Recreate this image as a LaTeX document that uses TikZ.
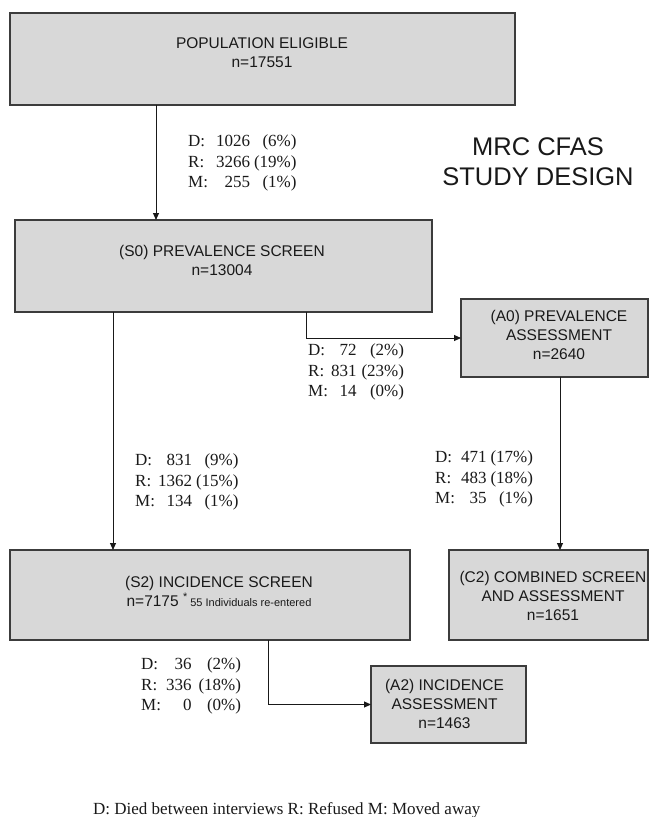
\documentclass[tikz,border=0pt]{standalone}
\usepackage{fontspec}
\setmainfont{Liberation Serif}
\newfontfamily\sansf{Liberation Sans}
\usetikzlibrary{arrows.meta}
\definecolor{boxfill}{RGB}{216,216,216}
\definecolor{boxline}{RGB}{60,60,60}
\definecolor{ink}{RGB}{25,25,25}
\begin{document}
\begin{tikzpicture}[x=1pt,y=-1pt,
  box/.style={draw=boxline,fill=boxfill,line width=1.3pt,inner sep=0pt,outer sep=0pt},
  boxtext/.style={font=\sansf\fontsize{15.5}{19}\selectfont,align=center,inner sep=0pt,text=ink},
  stat/.style={font=\fontsize{17}{20.5}\selectfont,anchor=west,inner sep=0pt,text=ink},
  arr/.style={draw=ink,line width=1pt,-{Triangle[length=7pt,width=6pt]}}]
\useasboundingbox (0,0) rectangle (649,817);

% boxes
\node[box,minimum width=505pt,minimum height=92pt] (b1) at (262.5,59) {};
\node[box,minimum width=417pt,minimum height=92pt] (s0) at (223.5,266) {};
\node[box,minimum width=187pt,minimum height=78pt] (a0) at (554.5,338) {};
\node[box,minimum width=400pt,minimum height=90pt] (s2) at (210,595) {};
\node[box,minimum width=199pt,minimum height=90pt] (c2) at (548.5,595) {};
\node[box,minimum width=155pt,minimum height=77pt] (a2) at (448.5,704.5) {};

% box texts
\node[boxtext] (t1) at (262,53) {POPULATION ELIGIBLE\\n=17551};
\node[boxtext] (ts0) at (222,260) {(S0) PREVALENCE SCREEN\\n=13004};
\node[boxtext] (ta0) at (559,335) {(A0) PREVALENCE\\ASSESSMENT\\n=2640};
\node[boxtext] (ts2) at (219,591) {(S2) INCIDENCE SCREEN\\n=7175 \textsuperscript{*}\,{\fontsize{11}{13}\selectfont 55 Individuals re-entered}};
\node[boxtext] (tc2) at (553,596) {(C2) COMBINED SCREEN\\AND ASSESSMENT\\n=1651};
\node[boxtext] (ta2) at (444.5,704) {(A2) INCIDENCE\\ASSESSMENT\\n=1463};

% title
\node[font=\sansf\fontsize{25.5}{30}\selectfont,align=center,inner sep=0pt,text=ink] (title) at (538,162) {MRC CFAS\\STUDY DESIGN};

% helper x positions
\coordinate (x1) at (156,0);
\coordinate (x2) at (113,0);
\coordinate (x3) at (306,0);
\coordinate (x4) at (560,0);
\coordinate (x5) at (268,0);

% connectors
\draw[arr] (b1.south -| x1) -- (s0.north -| x1);
\draw[arr] (s0.south -| x2) -- (s2.north -| x2);
\draw[arr] (s0.south -| x3) |- (a0.west);
\draw[arr] (a0.south -| x4) -- (c2.north -| x4);
\draw[arr] (s2.south -| x5) |- (a2.west);

% statistics
\node[stat] (l1) at (188,163) {\begin{tabular}{@{}l@{\hspace{8pt}}r@{\hspace{4pt}}r@{}}D: & 1026 & (6\%)\\R: & 3266 & (19\%)\\M: & 255 & (1\%)\end{tabular}};
\node[stat] (l2) at (308,372) {\begin{tabular}{@{}l@{\hspace{3pt}}r@{\hspace{5pt}}r@{}}D: & 72 & (2\%)\\R: & 831 & (23\%)\\M: & 14 & (0\%)\end{tabular}};
\node[stat] (l3) at (135,482) {\begin{tabular}{@{}l@{\hspace{3pt}}r@{\hspace{4pt}}r@{}}D: & 831 & (9\%)\\R: & 1362 & (15\%)\\M: & 134 & (1\%)\end{tabular}};
\node[stat] (l4) at (435,479) {\begin{tabular}{@{}l@{\hspace{6pt}}r@{\hspace{4pt}}r@{}}D: & 471 & (17\%)\\R: & 483 & (18\%)\\M: & 35 & (1\%)\end{tabular}};
\node[stat] (l5) at (141,686) {\begin{tabular}{@{}l@{\hspace{5pt}}r@{\hspace{7pt}}r@{}}D: & 36 & (2\%)\\R: & 336 & (18\%)\\M: & 0 & (0\%)\end{tabular}};

% legend
\node[stat] (legend) at (93,810) {D: Died between interviews R: Refused M: Moved away};
\end{tikzpicture}
\end{document}
